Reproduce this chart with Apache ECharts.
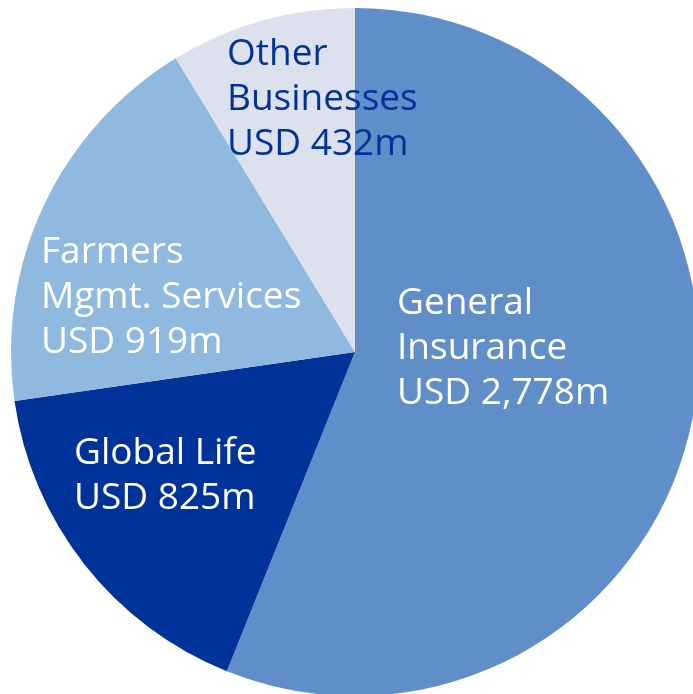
<!DOCTYPE html>
<html>
<head>
<meta charset="utf-8">
<script src="https://cdn.jsdelivr.net/npm/echarts@6/dist/echarts.min.js"></script>
<style>html,body{margin:0;padding:0;background:#fff;}#c{width:693px;height:694px;}</style>
</head>
<body>
<div id="c"></div>
<script>
const categories = ['General Insurance', 'Global Life', 'Farmers Mgmt. Services', 'Other Businesses'];
const values = [2778, 825, 919, 432];
const labelTexts = ['General\nInsurance\nUSD 2,778m', 'Global Life\nUSD 825m', 'Farmers\nMgmt. Services\nUSD 919m', 'Other\nBusinesses\nUSD 432m'];
const colors = ['#608ec8', '#003399', '#8fb9df', '#dde1ed'];
const labelColors = ['#ffffff', '#ffffff', '#ffffff', '#003399'];
const labelPos = [[397, 281], [74, 431], [41, 230], [227, 32]];

const chart = echarts.init(document.getElementById('c'));
const FONT = '"Open Sans", "Noto Sans", sans-serif';
chart.setOption({
  animation: false,
  series: [{
    type: 'pie',
    center: [355, 352],
    radius: 344,
    startAngle: 90,
    clockwise: true,
    label: { show: false },
    labelLine: { show: false },
    emphasis: { disabled: true },
    data: categories.map((c, i) => ({ name: c, value: values[i], itemStyle: { color: colors[i] } }))
  }],
  graphic: labelTexts.map((t, i) => ({
    type: 'text',
    left: labelPos[i][0],
    top: labelPos[i][1],
    z: 10,
    style: {
      text: t,
      fill: labelColors[i],
      font: '37px ' + FONT,
      lineHeight: 45
    }
  }))
});
</script>
</body>
</html>
